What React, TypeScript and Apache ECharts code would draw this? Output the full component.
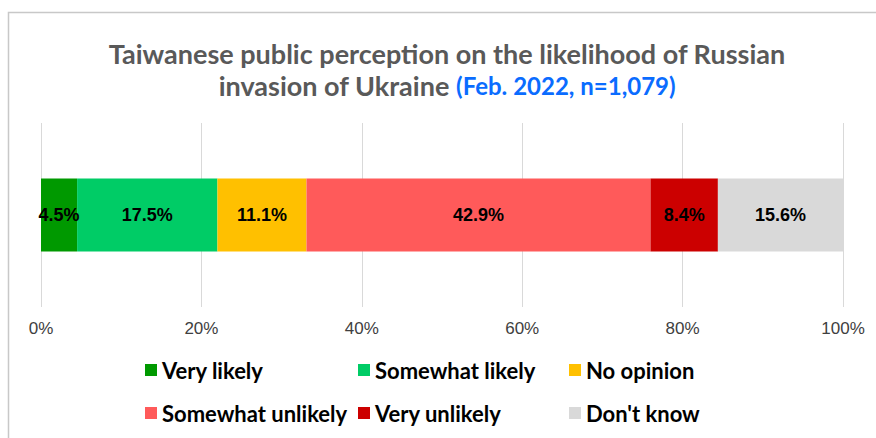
import React, { useEffect, useRef } from "react";
import * as echarts from "echarts";

const categories = ["Taiwan"];
const seriesNames = ["Very likely", "Somewhat likely", "No opinion", "Somewhat unlikely", "Very unlikely", "Don't know"];
const seriesValues = [4.5, 17.5, 11.1, 42.9, 8.4, 15.6];
const seriesColors = ["#009900", "#00cc66", "#ffc000", "#ff5a5a", "#cc0000", "#d9d9d9"];
const axisTicks = [0, 20, 40, 60, 80, 100];
const titleLine1 = "Taiwanese public perception on the likelihood of Russian";
const titleLine2 = "invasion of Ukraine ";
const titleNote = "(Feb. 2022, n=1,079)";

const CAL = "Lato, 'Open Sans', sans-serif";

export default function App() {
  const ref = useRef<HTMLDivElement>(null);
  useEffect(() => {
    if (!ref.current) return;
    const chart = echarts.init(ref.current, undefined, { renderer: "svg" });
    const legendPos = [
      [145, 358], [358, 358], [569, 358],
      [145, 401], [358, 401], [569, 401],
    ];
    const legends = seriesNames.map((name, k) => ({
      data: [name],
      left: legendPos[k][0],
      top: legendPos[k][1],
      padding: 0,
      itemWidth: 12,
      itemHeight: 12,
      itemGap: 0,
      itemTextGap: 6,
      icon: "rect",
      selectedMode: false,
      textStyle: {
        fontFamily: CAL,
        fontWeight: "bold",
        fontSize: 22,
        lineHeight: 24,
        color: "#000000",
      },
    }));
    chart.setOption({
      animation: false,
      backgroundColor: "#ffffff",
      graphic: [
        {
          type: "rect",
          shape: { x: 8.5, y: 12.5, width: 1000, height: 600 },
          style: { fill: "none", stroke: "#c8c8c8", lineWidth: 1.5 },
          silent: true,
        },
        {
          type: "text",
          x: 447,
          y: 37,
          style: {
            text: `{t|${titleLine1}}\n{t|${titleLine2}}{s|${titleNote}}`,
            align: "center",
            verticalAlign: "top",
            rich: {
              t: {
                fontFamily: CAL,
                fontWeight: "bold",
                fontSize: 27,
                lineHeight: 32,
                fill: "#595959",
                align: "center",
              },
              s: {
                fontFamily: CAL,
                fontWeight: "bold",
                fontSize: 24,
                lineHeight: 32,
                fill: "#0a6cff",
                align: "center",
              },
            },
          },
        },
      ],
      legend: legends,
      grid: { left: 41, right: 33, top: 123, bottom: 131, containLabel: false },
      xAxis: {
        type: "value",
        min: axisTicks[0],
        max: axisTicks[axisTicks.length - 1],
        interval: axisTicks[1] - axisTicks[0],
        axisLine: { show: false },
        axisTick: { show: false },
        axisLabel: {
          formatter: "{value}%",
          fontFamily: "'Liberation Sans', Arial, sans-serif",
          fontSize: 17,
          color: "#404040",
          margin: 13,
        },
        splitLine: { show: true, lineStyle: { color: "#d9d9d9", width: 1 } },
      },
      yAxis: {
        type: "category",
        data: categories,
        axisLine: { show: false },
        axisTick: { show: false },
        axisLabel: { show: false },
      },
      series: seriesNames.map((name, i) => ({
        name,
        type: "bar",
        stack: "total",
        barWidth: 73,
        data: [seriesValues[i]],
        itemStyle: { color: seriesColors[i] },
        label: {
          show: true,
          position: "inside",
          formatter: (p: any) => `${Number(p.value).toFixed(1)}%`,
          fontFamily: "'Liberation Sans', Arial, sans-serif",
          fontWeight: "bold",
          fontSize: 18,
          color: "#000000",
        },
      })),
    });
    return () => chart.dispose();
  }, []);
  return (
    <div
      ref={ref}
      style={{ position: "fixed", left: 0, top: 0, width: 876, height: 438 }}
    />
  );
}
